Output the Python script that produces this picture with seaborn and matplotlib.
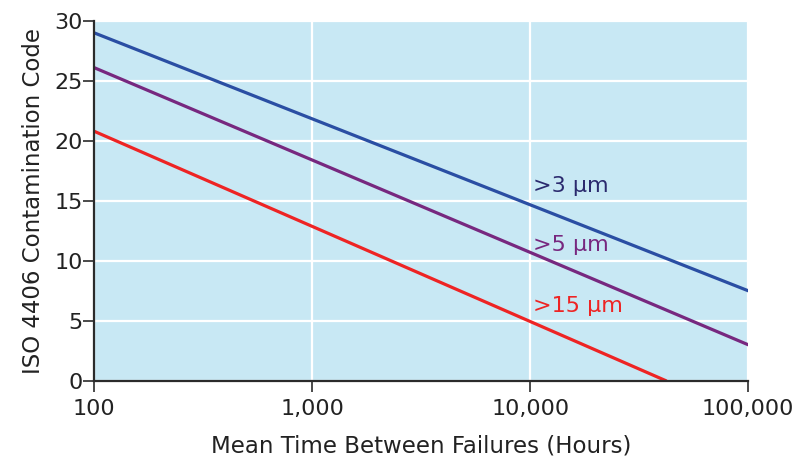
import matplotlib.pyplot as plt
import pandas as pd
import seaborn as sns

# values
hours_3 = [100, 100000]
code_3 = [29.0, 7.5]
hours_5 = [100, 100000]
code_5 = [26.1, 3.0]
hours_15 = [100, 42000]
code_15 = [20.8, 0.0]

sizes = [">3 µm", ">5 µm", ">15 µm"]
colors = ["#2a4ea3", "#77287f", "#ee2424"]
label_colors = ["#2b2a6e", "#77287f", "#ee2424"]
label_pos = [(10300, 16.2), (10300, 11.3), (10300, 6.2)]

df = pd.concat([
    pd.DataFrame({"hours": hours_3, "code": code_3, "size": sizes[0]}),
    pd.DataFrame({"hours": hours_5, "code": code_5, "size": sizes[1]}),
    pd.DataFrame({"hours": hours_15, "code": code_15, "size": sizes[2]}),
])

sns.set_style("white")
plt.rcParams["font.family"] = ["DejaVu Sans"]

fig, ax = plt.subplots(figsize=(7.96, 4.61), dpi=100)
fig.subplots_adjust(left=0.118, right=0.94, top=0.955, bottom=0.174)
ax.set_facecolor("#c8e8f4")

sns.lineplot(data=df, x="hours", y="code", hue="size", palette=colors,
             linewidth=2.3, legend=False, ax=ax)

ax.set_xscale("log")
ax.set_xlim(100, 100000)
ax.set_ylim(0, 30)
ax.set_xticks([100, 1000, 10000, 100000])
ax.set_xticklabels(["100", "1,000", "10,000", "100,000"])
ax.set_yticks([0, 5, 10, 15, 20, 25, 30])
ax.minorticks_off()
ax.grid(True, color="white", linewidth=1.6)
ax.set_axisbelow(True)

for s in ["top", "right"]:
    ax.spines[s].set_visible(False)
for s in ["left", "bottom"]:
    ax.spines[s].set_color("#2b2b2b")
    ax.spines[s].set_linewidth(1.6)
ax.tick_params(axis="both", length=8, width=1.2, color="#2b2b2b",
               labelsize=16, labelcolor="#222222", direction="out",
               bottom=True, left=True)
ax.tick_params(axis="y", pad=0)
ax.tick_params(axis="x", pad=5)

ax.set_xlabel("Mean Time Between Failures (Hours)", fontsize=16.5,
              color="#222222", labelpad=11)
ax.set_ylabel("ISO 4406 Contamination Code", fontsize=16.5,
              color="#222222", labelpad=7)

for name, c, (x, y) in zip(sizes, label_colors, label_pos):
    ax.text(x, y, name, color=c, fontsize=16, ha="left", va="center")

fig.savefig("out.png", dpi=100)
